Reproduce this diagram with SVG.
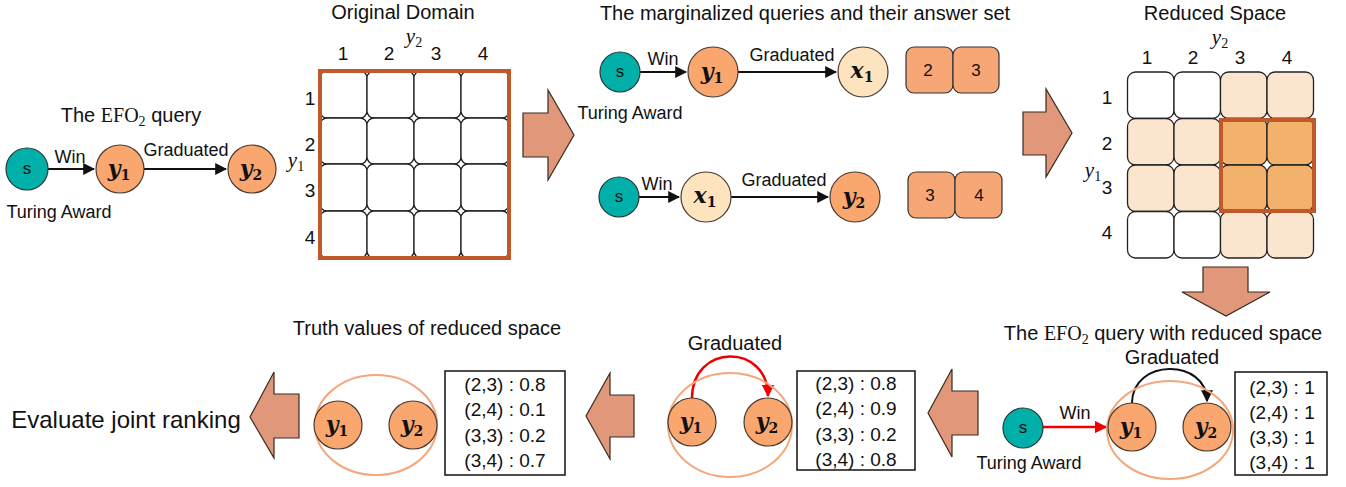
<svg xmlns="http://www.w3.org/2000/svg" width="1346" height="487" viewBox="0 0 1346 487">
  <style>
    text { font-family: "Liberation Sans", Arial, sans-serif; fill: #111; }
    .t { font-size: 20px; text-anchor: middle; }
    .lbl { font-size: 18px; text-anchor: middle; }
    .num { font-size: 19px; text-anchor: middle; dominant-baseline: central; }
    .val { font-size: 19px; text-anchor: middle; }
    .var { font-family: "DejaVu Serif", "Liberation Serif", serif; font-style: italic; font-weight: bold; font-size: 22px; text-anchor: middle; }
    .sub { font-style: normal; font-size: 14px; }
    .axis { font-family: "Liberation Serif", "DejaVu Serif", serif; font-style: italic; font-size: 21px; text-anchor: middle; }
    .axis-sub { font-style: normal; font-size: 14px; }
    .math { font-family: "Liberation Serif", "DejaVu Serif", serif; }
    .s { font-size: 17px; text-anchor: middle; dominant-baseline: central; }
    .anchor { fill: #00B0A8; stroke: #263838; stroke-width: 1.2; }
    .var-node { fill: #F9A66F; stroke: #4a3a30; stroke-width: 1.2; }
    .ex-node { fill: #FDE3BE; stroke: #4a3a30; stroke-width: 1.2; }
    .ans { fill: #F7A676; stroke: #333; stroke-width: 1.2; }
    .cell { fill: #fff; stroke: #222; stroke-width: 1.3; }
    .cell-lt { fill: #FBE5CE; stroke: #222; stroke-width: 1.3; }
    .cell-hi { fill: #F3B26B; stroke: #222; stroke-width: 1.3; }
    .frame { fill: none; stroke: #C0582C; stroke-width: 4; }
    .big-arrow { fill: #E0977A; stroke: #3a2a20; stroke-width: 1.2; }
    .edge { fill: none; stroke: #111; stroke-width: 2; }
    .edge-red { fill: none; stroke: #F00000; stroke-width: 2.5; }
    .group-ring { fill: none; stroke: #F4A77A; stroke-width: 2; }
    .table { fill: #fff; stroke: #111; stroke-width: 1.5; }
  </style>
  <defs>
    <marker id="ah" viewBox="0 0 10 10" refX="9" refY="5" markerWidth="6" markerHeight="6" markerUnits="strokeWidth" orient="auto">
      <path d="M0,0 L10,5 L0,10 z" fill="#111"/>
    </marker>
    <marker id="ah-red" viewBox="0 0 10 10" refX="9" refY="5" markerWidth="5" markerHeight="5" markerUnits="strokeWidth" orient="auto">
      <path d="M0,0 L10,5 L0,10 z" fill="#F00000"/>
    </marker>
  </defs>

  <!-- connectors -->
  <g id="connectors">
    <line class="edge" x1="48" y1="169" x2="94" y2="169" marker-end="url(#ah)"/>
    <line class="edge" x1="144" y1="169" x2="226" y2="169" marker-end="url(#ah)"/>
    <line class="edge" x1="640" y1="72" x2="686" y2="72" marker-end="url(#ah)"/>
    <line class="edge" x1="738" y1="72" x2="836" y2="72" marker-end="url(#ah)"/>
    <line class="edge" x1="639" y1="197" x2="679" y2="197" marker-end="url(#ah)"/>
    <line class="edge" x1="731" y1="197" x2="828" y2="197" marker-end="url(#ah)"/>
    <line class="edge-red" x1="1043" y1="427" x2="1106" y2="427" marker-end="url(#ah-red)"/>
    <path class="edge" d="M1132,403 C1132,358 1207,358 1207,401" marker-end="url(#ah)"/>
    <path class="edge-red" d="M692,398 C692,343 768,343 768,396" marker-end="url(#ah-red)"/>
  </g>

  <!-- EFO2 query -->
  <g id="efo2-query">
    <text class="t" x="131" y="122">The <tspan class="math">EFO</tspan><tspan class="math" font-size="14" dy="4">2</tspan><tspan dy="-4"> query</tspan></text>
    <circle class="anchor" cx="27" cy="169" r="21"/>
    <text class="s" x="27" y="168">s</text>
    <circle class="var-node" cx="120" cy="169" r="24"/>
    <text class="var" x="119" y="176">y<tspan class="sub" dy="4">1</tspan></text>
    <circle class="var-node" cx="252" cy="169" r="24"/>
    <text class="var" x="251" y="176">y<tspan class="sub" dy="4">2</tspan></text>
    <text class="lbl" x="70" y="163">Win</text>
    <text class="lbl" x="186" y="156">Graduated</text>
    <text class="lbl" x="59" y="218">Turing Award</text>
  </g>

  <!-- Original domain grid -->
  <g id="original-domain">
    <text class="t" x="403" y="19">Original Domain</text>
    <text class="axis" x="414" y="43">y<tspan class="axis-sub" dy="4">2</tspan></text>
    <text class="num" x="343" y="53">1</text>
    <text class="num" x="389" y="53">2</text>
    <text class="num" x="436" y="53">3</text>
    <text class="num" x="483" y="53">4</text>
    <text class="num" x="310" y="98">1</text>
    <text class="num" x="310" y="144">2</text>
    <text class="num" x="310" y="190">3</text>
    <text class="num" x="310" y="237">4</text>
    <text class="axis" x="296" y="167">y<tspan class="axis-sub" dy="4">1</tspan></text>
    <rect class="cell" x="320" y="71" width="47" height="47" rx="7"/>
    <rect class="cell" x="367" y="71" width="47" height="47" rx="7"/>
    <rect class="cell" x="414" y="71" width="47" height="47" rx="7"/>
    <rect class="cell" x="461" y="71" width="48" height="47" rx="7"/>
    <rect class="cell" x="320" y="118" width="47" height="46" rx="7"/>
    <rect class="cell" x="367" y="118" width="47" height="46" rx="7"/>
    <rect class="cell" x="414" y="118" width="47" height="46" rx="7"/>
    <rect class="cell" x="461" y="118" width="48" height="46" rx="7"/>
    <rect class="cell" x="320" y="164" width="47" height="47" rx="7"/>
    <rect class="cell" x="367" y="164" width="47" height="47" rx="7"/>
    <rect class="cell" x="414" y="164" width="47" height="47" rx="7"/>
    <rect class="cell" x="461" y="164" width="48" height="47" rx="7"/>
    <rect class="cell" x="320" y="211" width="47" height="47" rx="7"/>
    <rect class="cell" x="367" y="211" width="47" height="47" rx="7"/>
    <rect class="cell" x="414" y="211" width="47" height="47" rx="7"/>
    <rect class="cell" x="461" y="211" width="48" height="47" rx="7"/>
    <rect class="frame" x="320" y="71" width="189" height="187"/>
  </g>

  <!-- block arrows -->
  <g id="arrow-1"><path class="big-arrow" d="M523,113 H548 V90 L574,135 L548,180 V157 H523 Z"/></g>
  <g id="arrow-2"><path class="big-arrow" d="M1023,112 H1046 V89 L1072,133 L1046,177 V155 H1023 Z"/></g>
  <g id="arrow-3"><path class="big-arrow" d="M1203,267 H1248 V292 H1270 L1226,316 L1182,292 H1203 Z"/></g>
  <g id="arrow-4"><path class="big-arrow" d="M978,391 H952 V369 L928,413 L952,457 V435 H978 Z"/></g>
  <g id="arrow-5"><path class="big-arrow" d="M634,395 H610 V373 L586,416 L610,459 V437 H634 Z"/></g>
  <g id="arrow-6"><path class="big-arrow" d="M299,394 H274 V372 L250,417 L274,458 V438 H299 Z"/></g>

  <!-- Marginalized queries -->
  <g id="marginal-query-1">
    <text class="t" x="805" y="20">The marginalized queries and their answer set</text>
    <circle class="anchor" cx="620" cy="72" r="20"/>
    <text class="s" x="620" y="71">s</text>
    <circle class="var-node" cx="713" cy="72" r="25"/>
    <text class="var" x="712" y="79">y<tspan class="sub" dy="4">1</tspan></text>
    <circle class="ex-node" cx="863" cy="72" r="25"/>
    <text class="var" x="862" y="78">x<tspan class="sub" dy="4">1</tspan></text>
    <text class="lbl" x="663" y="65">Win</text>
    <text class="lbl" x="792" y="61">Graduated</text>
    <text class="lbl" x="630" y="119">Turing Award</text>
  </g>
  <g id="answer-set-1">
    <rect class="ans" x="906" y="47" width="47" height="46" rx="8"/>
    <rect class="ans" x="953" y="47" width="46" height="46" rx="8"/>
    <text class="s" x="928" y="70">2</text>
    <text class="s" x="976" y="70">3</text>
  </g>
  <g id="marginal-query-2">
    <circle class="anchor" cx="619" cy="197" r="20"/>
    <text class="s" x="619" y="196">s</text>
    <circle class="ex-node" cx="706" cy="197" r="25"/>
    <text class="var" x="705" y="203">x<tspan class="sub" dy="4">1</tspan></text>
    <circle class="var-node" cx="855" cy="197" r="25"/>
    <text class="var" x="854" y="204">y<tspan class="sub" dy="4">2</tspan></text>
    <text class="lbl" x="657" y="190">Win</text>
    <text class="lbl" x="784" y="186">Graduated</text>
  </g>
  <g id="answer-set-2">
    <rect class="ans" x="908" y="172" width="47" height="46" rx="8"/>
    <rect class="ans" x="955" y="172" width="47" height="46" rx="8"/>
    <text class="s" x="930" y="195">3</text>
    <text class="s" x="979" y="195">4</text>
  </g>

  <!-- Reduced space grid -->
  <g id="reduced-space">
    <text class="t" x="1215" y="20">Reduced Space</text>
    <text class="axis" x="1220" y="44">y<tspan class="axis-sub" dy="4">2</tspan></text>
    <text class="num" x="1147" y="57">1</text>
    <text class="num" x="1193" y="57">2</text>
    <text class="num" x="1240" y="57">3</text>
    <text class="num" x="1287" y="57">4</text>
    <text class="num" x="1107" y="97">1</text>
    <text class="num" x="1107" y="143">2</text>
    <text class="num" x="1107" y="187">3</text>
    <text class="num" x="1107" y="232">4</text>
    <text class="axis" x="1093" y="177">y<tspan class="axis-sub" dy="4">1</tspan></text>
    <rect class="cell" x="1127.5" y="72" width="46.5" height="46.5" rx="8"/>
    <rect class="cell" x="1174" y="72" width="46.5" height="46.5" rx="8"/>
    <rect class="cell-lt" x="1220.5" y="72" width="46.5" height="46.5" rx="8"/>
    <rect class="cell-lt" x="1267" y="72" width="46.5" height="46.5" rx="8"/>
    <rect class="cell-lt" x="1127.5" y="118.5" width="46.5" height="46.5" rx="8"/>
    <rect class="cell-lt" x="1174" y="118.5" width="46.5" height="46.5" rx="8"/>
    <rect class="cell-hi" x="1220.5" y="118.5" width="46.5" height="46.5" rx="8"/>
    <rect class="cell-hi" x="1267" y="118.5" width="46.5" height="46.5" rx="8"/>
    <rect class="cell-lt" x="1127.5" y="165" width="46.5" height="46.5" rx="8"/>
    <rect class="cell-lt" x="1174" y="165" width="46.5" height="46.5" rx="8"/>
    <rect class="cell-hi" x="1220.5" y="165" width="46.5" height="46.5" rx="8"/>
    <rect class="cell-hi" x="1267" y="165" width="46.5" height="46.5" rx="8"/>
    <rect class="cell" x="1127.5" y="211.5" width="46.5" height="46.5" rx="8"/>
    <rect class="cell" x="1174" y="211.5" width="46.5" height="46.5" rx="8"/>
    <rect class="cell-lt" x="1220.5" y="211.5" width="46.5" height="46.5" rx="8"/>
    <rect class="cell-lt" x="1267" y="211.5" width="46.5" height="46.5" rx="8"/>
    <rect class="frame" x="1221" y="120" width="93" height="91"/>
  </g>

  <!-- EFO2 query with reduced space -->
  <g id="reduced-query">
    <text class="t" x="1163" y="340">The <tspan class="math">EFO</tspan><tspan class="math" font-size="14" dy="4">2</tspan><tspan dy="-4"> query with reduced space</tspan></text>
    <text class="t" x="1172" y="364">Graduated</text>
    <ellipse class="group-ring" cx="1170" cy="430" rx="63" ry="49"/>
    <circle class="anchor" cx="1023" cy="428" r="20"/>
    <text class="s" x="1023" y="427">s</text>
    <circle class="var-node" cx="1132" cy="427" r="24"/>
    <text class="var" x="1131" y="434">y<tspan class="sub" dy="4">1</tspan></text>
    <circle class="var-node" cx="1207" cy="427" r="24"/>
    <text class="var" x="1206" y="434">y<tspan class="sub" dy="4">2</tspan></text>
    <text class="lbl" x="1075" y="419">Win</text>
    <text class="lbl" x="1029" y="469">Turing Award</text>
  </g>
  <g id="reduced-table">
    <rect class="table" x="1235" y="372" width="92" height="103"/>
    <text class="val" x="1282" y="394">(2,3) : 1</text>
    <text class="val" x="1282" y="419">(2,4) : 1</text>
    <text class="val" x="1282" y="444">(3,3) : 1</text>
    <text class="val" x="1282" y="469">(3,4) : 1</text>
  </g>

  <!-- Graduated projection -->
  <g id="projected-query">
    <text class="t" x="735" y="350">Graduated</text>
    <ellipse class="group-ring" cx="730" cy="425" rx="62" ry="52"/>
    <circle class="var-node" cx="692" cy="422" r="24"/>
    <text class="var" x="691" y="429">y<tspan class="sub" dy="4">1</tspan></text>
    <circle class="var-node" cx="768" cy="422" r="24" stroke="#111"/>
    <text class="var" x="767" y="429">y<tspan class="sub" dy="4">2</tspan></text>
  </g>
  <g id="projected-table">
    <rect class="table" x="797" y="371" width="118" height="99"/>
    <text class="val" x="856" y="390">(2,3) : 0.8</text>
    <text class="val" x="856" y="415">(2,4) : 0.9</text>
    <text class="val" x="856" y="441">(3,3) : 0.2</text>
    <text class="val" x="856" y="466">(3,4) : 0.8</text>
  </g>

  <!-- Truth values -->
  <g id="truth-values">
    <text class="t" x="427" y="335">Truth values of reduced space</text>
    <ellipse class="group-ring" cx="376" cy="425" rx="61" ry="50"/>
    <circle class="var-node" cx="338" cy="425" r="24"/>
    <text class="var" x="337" y="432">y<tspan class="sub" dy="4">1</tspan></text>
    <circle class="var-node" cx="413" cy="425" r="24" stroke="#111"/>
    <text class="var" x="412" y="432">y<tspan class="sub" dy="4">2</tspan></text>
  </g>
  <g id="truth-table">
    <rect class="table" x="445" y="371" width="120" height="104"/>
    <text class="val" x="505" y="391">(2,3) : 0.8</text>
    <text class="val" x="505" y="416">(2,4) : 0.1</text>
    <text class="val" x="505" y="442">(3,3) : 0.2</text>
    <text class="val" x="505" y="467">(3,4) : 0.7</text>
  </g>

  <g id="ranking">
    <text x="126" y="428" font-size="24" text-anchor="middle">Evaluate joint ranking</text>
  </g>
</svg>
